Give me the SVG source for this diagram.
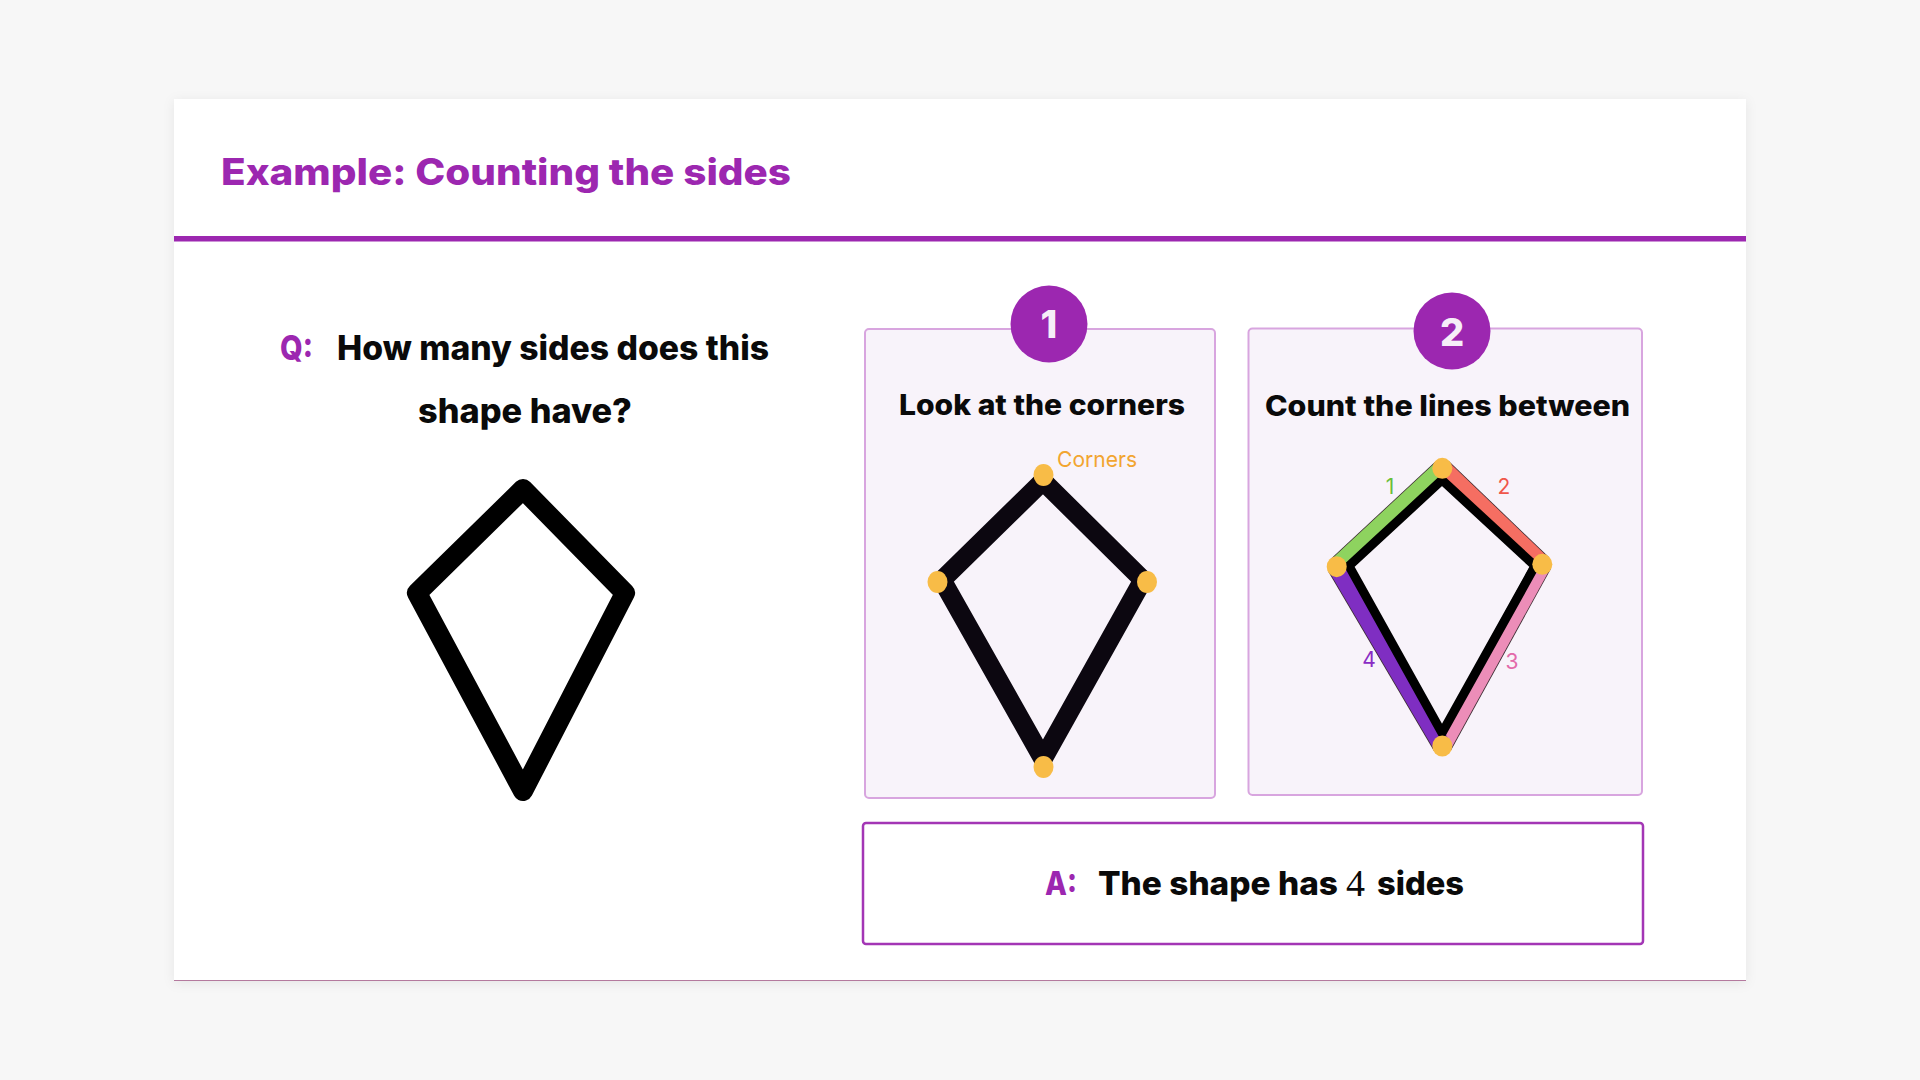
<svg xmlns="http://www.w3.org/2000/svg" width="1920" height="1080" viewBox="0 0 1920 1080">
  <defs>
    <filter id="shadow" x="-5%" y="-5%" width="110%" height="110%">
      <feDropShadow dx="0" dy="2" stdDeviation="6" flood-color="#000" flood-opacity="0.07"/>
    </filter>
    <style>
      .h { font-family: Inter, "Open Sans", "Liberation Sans", sans-serif; font-weight: 800; fill: #0a0a0a; }
      .purple { fill: #9c27b0; }
      .panel { fill: #f8f3fa; stroke: #d8a5df; stroke-width: 2; }
      .badge { fill: #9c27b0; }
      .badgeNum { font-family: Inter, "Open Sans", "Liberation Sans", sans-serif; font-weight: 800; font-size: 38px; fill: #f6eef8; text-anchor: middle; }
      .dot { fill: #f8bc47; }
      .lbl { font-family: Inter, "Open Sans", "Liberation Sans", sans-serif; font-weight: 400; font-size: 21px; text-anchor: middle; }
      .kite { fill: none; stroke-linejoin: round; }
      .edgeBase { stroke: #3a2a30; stroke-width: 19.5; stroke-linecap: butt; fill: none; }
      .edge { stroke-width: 18; stroke-linecap: butt; fill: none; }
    </style>
  </defs>

  <rect x="0" y="0" width="1920" height="1080" fill="#f7f7f7"/>

  <g id="card">
    <rect x="174" y="99" width="1572" height="882" fill="#ffffff" filter="url(#shadow)"/>
    <line x1="174" y1="980.5" x2="1746" y2="980.5" stroke="#b47a9e" stroke-width="1"/>
    <rect x="174" y="236" width="1572" height="5.5" fill="#9c27b0"/>
  </g>

  <g id="title">
    <text class="h purple" x="221" y="185" font-size="37" textLength="570" lengthAdjust="spacingAndGlyphs">Example: Counting the sides</text>
  </g>

  <g id="question">
    <text class="h purple" x="280" y="360" font-size="34" textLength="33" lengthAdjust="spacingAndGlyphs">Q:</text>
    <text class="h" x="337" y="360" font-size="34" textLength="432" lengthAdjust="spacingAndGlyphs">How many sides does this</text>
    <text class="h" x="418" y="423" font-size="34" textLength="214" lengthAdjust="spacingAndGlyphs">shape have?</text>
  </g>

  <g id="kite-main">
    <polygon class="kite" points="523,489 625,593 523,791 417,593" stroke="#000000" stroke-width="20"/>
  </g>

  <g id="step1">
    <rect class="panel" x="865" y="329" width="350" height="469" rx="4"/>
    <circle class="badge" cx="1049" cy="324" r="38.5"/>
    <text class="badgeNum" x="1049" y="338">1</text>
    <text class="h" x="899" y="415" font-size="28" textLength="286" lengthAdjust="spacingAndGlyphs">Look at the corners</text>
    <polygon class="kite" points="1043,481 1143,580 1043,759 942,580" stroke="#0c0710" stroke-width="19" stroke-linejoin="miter"/>
    <ellipse class="dot" cx="1043.5" cy="475" rx="10" ry="11"/>
    <ellipse class="dot" cx="937.5" cy="582" rx="10" ry="11"/>
    <ellipse class="dot" cx="1147" cy="582" rx="10" ry="11"/>
    <ellipse class="dot" cx="1043.5" cy="767" rx="10" ry="11"/>
    <text x="1057" y="467" font-family="Inter, 'Open Sans', 'Liberation Sans', sans-serif" font-size="22" fill="#f2a530" textLength="80" lengthAdjust="spacingAndGlyphs">Corners</text>
  </g>

  <g id="step2">
    <rect class="panel" x="1248.5" y="328.5" width="393.5" height="466.5" rx="4"/>
    <circle class="badge" cx="1452" cy="331" r="38.5"/>
    <text class="badgeNum" x="1452" y="345.5">2</text>
    <text class="h" x="1265" y="416" font-size="28" textLength="365" lengthAdjust="spacingAndGlyphs">Count the lines between</text>
    <g id="connectors">
      <line class="edgeBase" x1="1336.7" y1="566.7" x2="1442.3" y2="468.3"/>
      <line class="edgeBase" x1="1442.3" y1="468.3" x2="1542.3" y2="564.3"/>
      <line class="edgeBase" x1="1542.3" y1="564.3" x2="1442.3" y2="746"/>
      <line class="edgeBase" x1="1442.3" y1="746" x2="1336.7" y2="566.7"/>
      <line class="edge" stroke="#8ed35f" x1="1336.7" y1="566.7" x2="1442.3" y2="468.3"/>
      <line class="edge" stroke="#f56e62" x1="1442.3" y1="468.3" x2="1542.3" y2="564.3"/>
      <line class="edge" stroke="#ec8db8" x1="1542.3" y1="564.3" x2="1442.3" y2="746"/>
      <line class="edge" stroke="#7f2ec2" x1="1442.3" y1="746" x2="1336.7" y2="566.7"/>
      <polygon points="1442,480 1535,566 1442,733 1349,566" fill="none" stroke="#000000" stroke-width="9" stroke-linejoin="miter"/>
    </g>
    <ellipse class="dot" cx="1442.3" cy="468.3" rx="10" ry="10.5"/>
    <ellipse class="dot" cx="1336.7" cy="566.7" rx="10" ry="10.5"/>
    <ellipse class="dot" cx="1542.3" cy="564.3" rx="10" ry="10.5"/>
    <ellipse class="dot" cx="1442.3" cy="746" rx="10" ry="10.5"/>
    <text class="lbl" x="1390" y="494" fill="#6bbf3b">1</text>
    <text class="lbl" x="1504" y="494" fill="#f0564a">2</text>
    <text class="lbl" x="1512" y="669" fill="#e36aaa">3</text>
    <text class="lbl" x="1369" y="667" fill="#8a2cc4">4</text>
  </g>

  <g id="answer">
    <rect x="863" y="823" width="780" height="121" rx="3" fill="#ffffff" stroke="#a336b5" stroke-width="2.5"/>
    <text class="h purple" x="1045" y="895" font-size="33" textLength="32" lengthAdjust="spacingAndGlyphs">A:</text>
    <text class="h" x="1098" y="895" font-size="33" textLength="240" lengthAdjust="spacingAndGlyphs">The shape has</text>
    <text x="1346" y="896" font-family="'Liberation Serif', 'DejaVu Serif', serif" font-size="38" fill="#0a0a0a">4</text>
    <text class="h" x="1377" y="895" font-size="33" textLength="87" lengthAdjust="spacingAndGlyphs">sides</text>
  </g>
</svg>
